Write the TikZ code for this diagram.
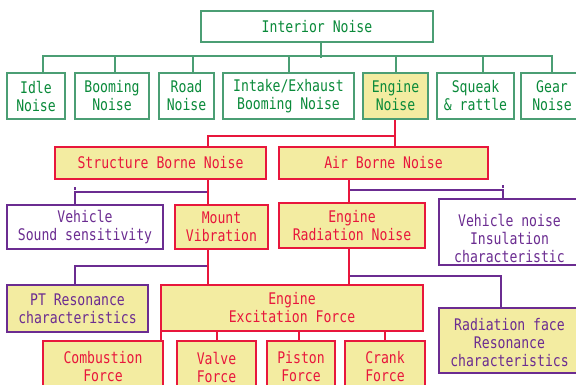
\documentclass[tikz,border=0pt]{standalone}
\usepackage{fontspec}
\newfontfamily\gfont[FakeStretch=0.82]{DejaVu Sans Mono}
\definecolor{gborder}{HTML}{4B9E74}
\definecolor{gtext}{HTML}{0A8A3A}
\definecolor{rcol}{HTML}{E8173C}
\definecolor{pcol}{HTML}{6B2C91}
\definecolor{yel}{HTML}{F3ECA1}
\begin{document}
\begin{tikzpicture}[x=1pt,y=-1pt,
  box/.style={draw, line width=2pt, inner sep=0pt, align=center, font=\gfont\fontsize{16}{18}\selectfont},
  gbox/.style={box, draw=gborder, text=gtext, fill=white},
  gyel/.style={gbox, fill=yel},
  rbox/.style={box, draw=rcol, text=rcol, fill=yel},
  pbox/.style={box, draw=pcol, text=pcol, fill=white},
  pyel/.style={box, draw=pcol, text=pcol, fill=yel},
  ptext/.style={inner sep=0pt, align=center, text=pcol, font=\gfont\fontsize{16}{18}\selectfont},
  gline/.style={draw=gborder, line width=2pt},
  rline/.style={draw=rcol, line width=2pt},
  pline/.style={draw=pcol, line width=2pt}]
\useasboundingbox (0,0) rectangle (576,384);
\clip (0,0) rectangle (576,384);
\fill[white] (0,0) rectangle (576,384);

% top
\node[gbox, minimum width=232pt, minimum height=31pt] (interior) at (317,26.5) {Interior Noise};
% row 2
\node[gbox, minimum width=58pt, minimum height=46pt] (idle) at (36,96) {Idle\\Noise};
\node[gbox, minimum width=74pt, minimum height=46pt] (booming) at (112,96) {Booming\\Noise};
\node[gbox, minimum width=55pt, minimum height=46pt] (road) at (186.5,96) {Road\\Noise};
\node[gbox, minimum width=131pt, minimum height=46pt] (intake) at (288.5,96) {Intake/Exhaust\\Booming Noise};
\node[gyel, minimum width=65pt, minimum height=46pt] (engine) at (395.5,96) {Engine\\Noise};
\node[gbox, minimum width=77pt, minimum height=46pt] (squeak) at (475.5,96) {Squeak\\\& rattle};
\node[gbox, minimum width=62pt, minimum height=46pt] (gear) at (552,96) {Gear\\Noise};

% green tree
\draw[gline] ([xshift=4pt]interior.south) -- ++(0,15);
\draw[gline] ([xshift=7pt]idle.north) -- ++(0,-16) -- ++(509,0) -- (gear.north);
\draw[gline] ([xshift=3pt]booming.north) -- ++(0,-16);
\draw[gline] ([xshift=6.5pt]road.north) -- ++(0,-16);
\draw[gline] (intake.north) -- ++(0,-16);
\draw[gline] (engine.north) -- ++(0,-16);
\draw[gline] ([xshift=7.5pt]squeak.north) -- ++(0,-16);

% red level
\node[rbox, minimum width=211pt, minimum height=32pt] (structure) at (160.5,163) {Structure Borne Noise};
\node[rbox, minimum width=209pt, minimum height=32pt] (air) at (383.5,163) {Air Borne Noise};
\draw[rline] ([xshift=-0.5pt]engine.south) -- ([xshift=11.5pt]air.north);
\draw[rline] ([xshift=-0.5pt]engine.south) ++(0,16) -| ([xshift=47.5pt]structure.north);

% third level
\node[pbox, minimum width=156pt, minimum height=44pt] (vehicle) at (85,227) {Vehicle\\Sound sensitivity};
\node[rbox, minimum width=93pt, minimum height=44pt] (mount) at (221.5,227) {Mount\\Vibration};
\node[rbox, minimum width=146pt, minimum height=45pt] (engrad) at (352,225.5) {Engine\\Radiation Noise};
\node[pbox, minimum width=141pt, minimum height=66pt] (vnoise) at (509.5,232) {};
\node[ptext] (vnoiseT) at (509.5,238) {Vehicle noise\\Insulation\\characteristic};

\draw[rline] ([xshift=47.5pt]structure.south) -- ([xshift=-13.5pt]mount.north);
\draw[pline] ([xshift=46.5pt]structure.south) ++(0,12) -| ([xshift=-10pt]vehicle.north);
\draw[pline] ([xshift=-10pt]vehicle.north) ++(0,-14) -- ++(0,-3);
\draw[rline] ([xshift=-34.5pt]air.south) -- ([xshift=-3pt]engrad.north);
\draw[pline] ([xshift=-33.5pt]air.south) ++(0,10) -| ([xshift=-6.5pt]vnoise.north);
\draw[pline] ([xshift=-6.5pt]vnoise.north) ++(0,-10) -- ++(0,-3);

% fourth level
\node[pyel, minimum width=141pt, minimum height=47pt] (pt) at (77.5,308.5) {PT Resonance\\characteristics};
\node[rbox, minimum width=262pt, minimum height=46pt] (excit) at (292,308) {Engine\\Excitation Force};
\node[pyel, minimum width=141pt, minimum height=65pt] (radface) at (509.5,340.5) {};
\node[ptext] (radfaceT) at (509.5,343) {Radiation face\\Resonance\\characteristics};

\draw[rline] ([xshift=-13.5pt]mount.south) -- ([xshift=-84pt]excit.north);
\draw[pline] ([xshift=-14.5pt]mount.south) ++(0,16) -| ([xshift=-2.5pt]pt.north);
\draw[rline] ([xshift=-3pt]engrad.south) -- ([xshift=57pt]excit.north);
\draw[pline] ([xshift=-2pt]engrad.south) ++(0,27) -| ([xshift=-8.5pt]radface.north);

% bottom row
\node[rbox, minimum width=120pt, minimum height=52pt] (comb) at (103,367) {Combustion\\Force};
\node[rbox, minimum width=79pt, minimum height=52pt] (valve) at (216.5,367) {Valve\\Force};
\node[rbox, minimum width=68pt, minimum height=52pt] (piston) at (301,367) {Piston\\Force};
\node[rbox, minimum width=80pt, minimum height=52pt] (crank) at (385,367) {Crank\\Force};

\draw[rline] ([xshift=-131pt]excit.south) -- ([xshift=58pt]comb.north);
\draw[rline] ([xshift=-75pt]excit.south) -- ([xshift=0.5pt]valve.north);
\draw[rline] ([xshift=7pt]excit.south) -- ([xshift=-2pt]piston.north);
\draw[rline] ([xshift=93pt]excit.south) -- (crank.north);
\end{tikzpicture}
\end{document}
